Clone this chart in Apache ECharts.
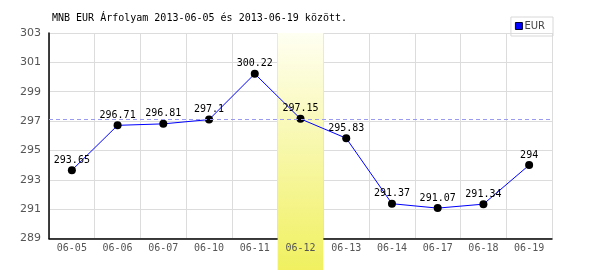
<!DOCTYPE html>
<html><head><meta charset="utf-8">
<script src="https://cdn.jsdelivr.net/npm/echarts@6/dist/echarts.min.js"></script>
<style>html,body{margin:0;padding:0;background:#fff}#c{width:600px;height:270px}</style>
</head><body><div id="c"></div>
<script>
const categories = ['06-05','06-06','06-07','06-10','06-11','06-12','06-13','06-14','06-17','06-18','06-19'];
const eurValues = [293.65,296.71,296.81,297.1,300.22,297.15,295.83,291.37,291.07,291.34,294];
const yTicks = [289,291,293,295,297,299,301,303];
const highlightIndex = 5;
const refValue = 297.15;
const titleText = 'MNB EUR Árfolyam 2013-06-05 és 2013-06-19 között.';

const mono = 'DejaVu Sans Mono';
const chart = echarts.init(document.getElementById('c'), null, {renderer:'canvas'});
const option = {
  animation:false,
  backgroundColor:'#fff',
  title:{text:titleText,left:47,top:8,textStyle:{fontFamily:mono,fontSize:10,fontWeight:'normal',color:'#000'}},
  legend:{data:[{name:'EUR',itemStyle:{color:'#0000ff',borderColor:'#000033',borderWidth:1}}],right:47,top:17,icon:'rect',itemWidth:7,itemHeight:7,itemGap:2,
    borderColor:'#d8d8d8',borderWidth:1,padding:[4,8,5,4],
    textStyle:{fontFamily:'DejaVu Sans',fontSize:10,color:'#444',padding:[0,0,0,-3]}},
  grid:{left:49,right:48,top:33,bottom:31.5},
  xAxis:[{
    type:'category',data:categories,boundaryGap:true,z:0,
    axisLine:{lineStyle:{color:'#000',width:1.5}},axisTick:{show:false},
    axisLabel:{show:false},
    splitLine:{show:true,interval:0,lineStyle:{color:'#dcdcdc',width:1}}
  },{
    type:'category',data:categories,boundaryGap:true,position:'bottom',z:5,
    axisLine:{show:false},axisTick:{show:false},splitLine:{show:false},
    axisLabel:{interval:0,margin:5,fontFamily:mono,fontSize:10,color:'#555'}
  }],
  yAxis:{type:'value',min:yTicks[0],max:yTicks[yTicks.length-1],interval:2,
    axisLine:{show:true,lineStyle:{color:'#000',width:1.5}},axisTick:{show:false},
    axisLabel:{margin:8,fontFamily:'DejaVu Sans',fontSize:11,color:'#555'},
    splitLine:{lineStyle:{color:'#dcdcdc',width:1}}},
  series:[{
    name:'ref',type:'line',data:[],z:0,silent:true,color:'#9a9af0',
    markLine:{silent:true,symbol:'none',label:{show:false},
      lineStyle:{color:'#9a9af0',type:[4,3],width:1,opacity:1},
      emphasis:{disabled:true},
      data:[{yAxis:refValue,lineStyle:{color:'#9a9af0'}}]}
  },{
    name:'EUR',type:'line',data:eurValues,z:3,
    symbol:'circle',symbolSize:8,
    itemStyle:{color:'#000'},
    lineStyle:{color:'#0000ff',width:1},
    label:{show:true,position:'top',distance:1,fontFamily:mono,fontSize:10,color:'#000'}
  }]
};
chart.setOption(option);
const c0 = chart.convertToPixel({xAxisIndex:0}, highlightIndex-1);
const c1 = chart.convertToPixel({xAxisIndex:0}, highlightIndex);
const bw = c1 - c0;
const topY = chart.convertToPixel({yAxisIndex:0}, yTicks[yTicks.length-1]);
chart.setOption({graphic:[{type:'rect',z:1,silent:true,
  shape:{x:c1-bw/2,y:topY,width:bw,height:270-topY},
  style:{fill:new echarts.graphic.LinearGradient(0,0,0,1,[{offset:0,color:'#fffff2'},{offset:1,color:'#f0f060'}])}}]});
</script></body></html>
